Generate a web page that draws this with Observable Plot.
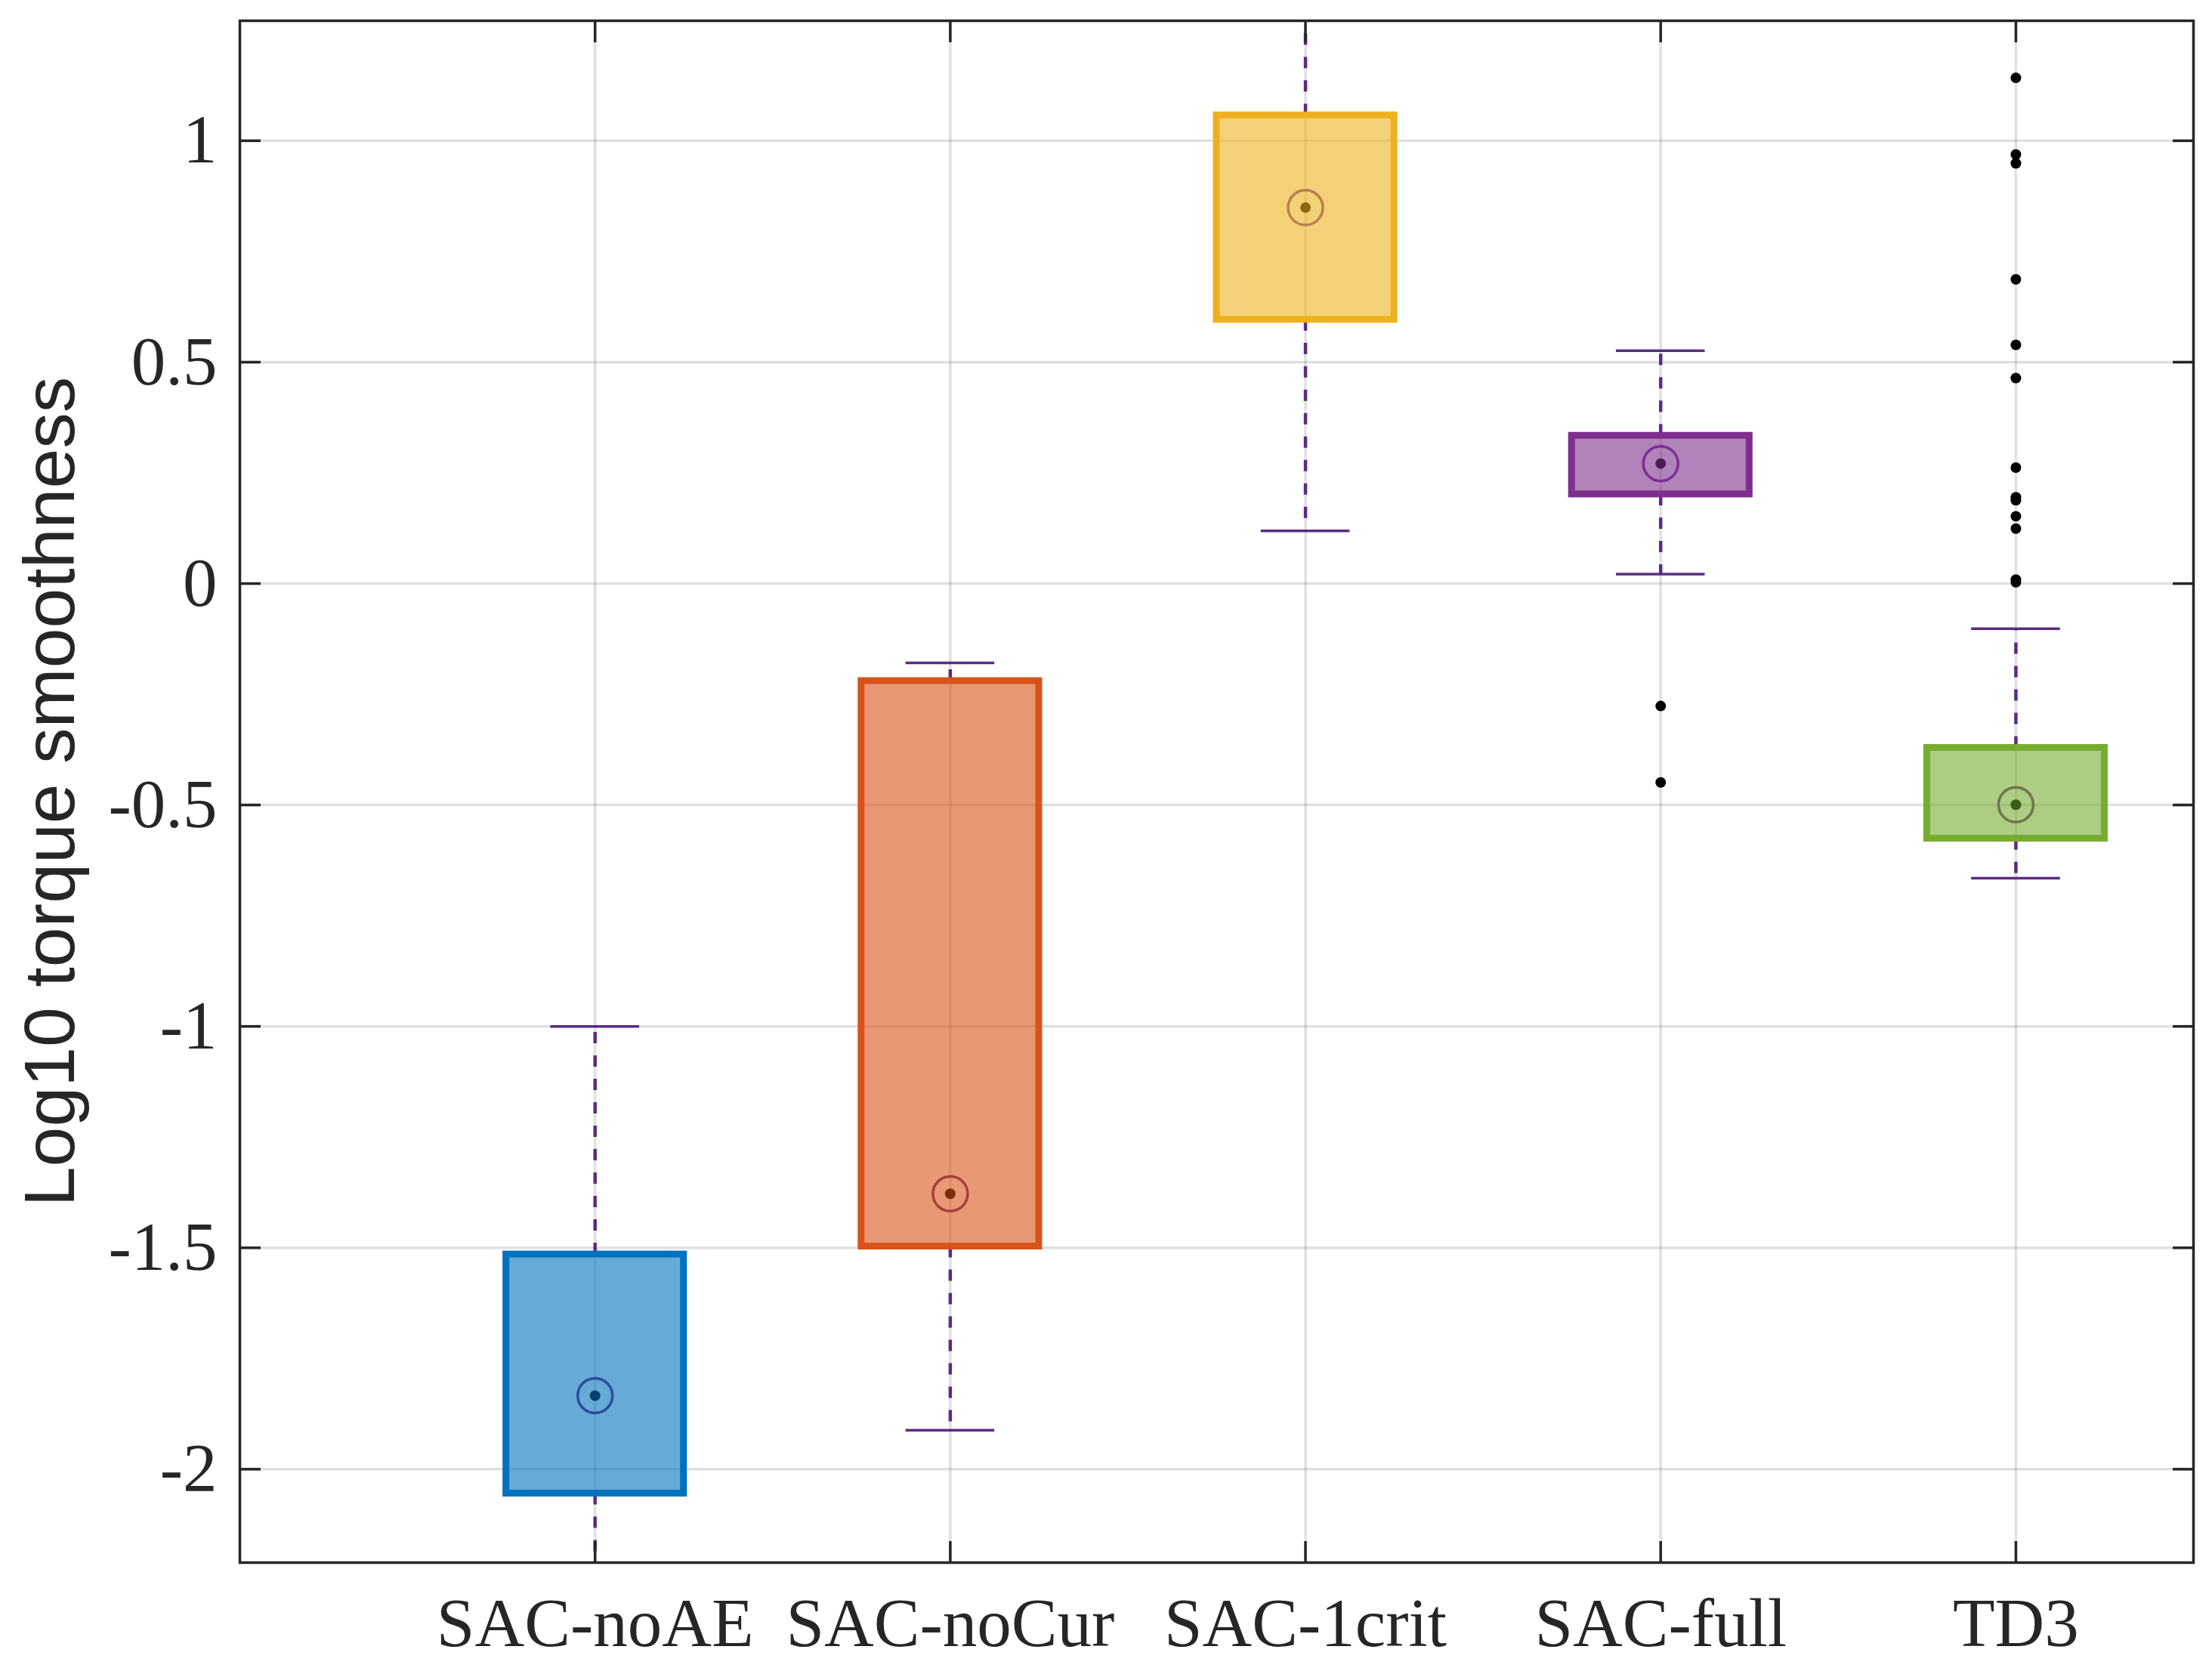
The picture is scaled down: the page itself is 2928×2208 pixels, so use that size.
<!DOCTYPE html>
<html>
<head>
<meta charset="utf-8">
<script src="https://cdn.jsdelivr.net/npm/d3@7"></script>
<script src="https://cdn.jsdelivr.net/npm/@observablehq/plot@0.6"></script>
<style>
  html, body { margin: 0; padding: 0; background: #ffffff; }
  #chart svg { display: block; }
</style>
</head>
<body>
<div id="chart"></div>
<script>
// ---- data ----
const categories = ["SAC-noAE", "SAC-noCur", "SAC-1crit", "SAC-full", "TD3"];
const positions = [1, 2, 3, 4, 5];
const q1 = [-2.055, -1.497, 0.596, 0.2015, -0.576];
const q3 = [-1.515, -0.220, 1.0575, 0.334, -0.371];
const medians = [-1.834, -1.378, 0.849, 0.271, -0.4995];
const whiskerLow = [-2.40, -1.912, 0.119, 0.0215, -0.6655];
const whiskerHigh = [-1.0, -0.179, 1.40, 0.526, -0.102];
const outliersSACfull = [-0.2765, -0.449];
const outliersTD3 = [1.142, 0.969, 0.949, 0.687, 0.539, 0.464, 0.262, 0.195, 0.188, 0.152, 0.124, 0.009, 0.003];
const yTicks = [-2, -1.5, -1, -0.5, 0, 0.5, 1];
const yDomain = [-2.211, 1.271];
const xDomain = [0, 5.5];
const yLabel = "Log10 torque smoothness";

// ---- styles ----
const boxColors = ["#0072BD", "#D95319", "#EDB120", "#7E2F8E", "#77AC30"];
const ringColors = ["#2D4C9E", "#A6403C", "#B8804A", "#7B2F93", "#6E7452"];
const dotColors = ["#00406B", "#7A2E0C", "#8A6812", "#4E1D58", "#3E5C17"];
const whiskerColor = "#5B2C82";
const axisColor = "#262626";

const boxes = categories.map((c, i) => ({
  cat: c, pos: positions[i], q1: q1[i], q3: q3[i], med: medians[i],
  lo: whiskerLow[i], hi: whiskerHigh[i],
  color: boxColors[i], ring: ringColors[i], dot: dotColors[i]
}));
const outliers = [
  ...outliersSACfull.map(v => ({pos: positions[3], v})),
  ...outliersTD3.map(v => ({pos: positions[4], v}))
];

const halfBox = 0.25, halfCap = 0.125;
const serif = "Liberation Serif";

const chart = Plot.plot({
  width: 2928,
  height: 2208,
  marginLeft: 317,
  marginRight: 25,
  marginTop: 27,
  marginBottom: 140,
  style: {fontFamily: serif, fontSize: "91px", color: axisColor, background: "#ffffff"},
  x: {domain: xDomain, label: null},
  y: {domain: yDomain, label: null},
  marks: [
    Plot.gridX(positions, {stroke: "#000", strokeOpacity: 0.12, strokeWidth: 3.5}),
    Plot.gridY(yTicks, {stroke: "#000", strokeOpacity: 0.12, strokeWidth: 3.5}),
    // whiskers (dashed)
    Plot.ruleX(boxes, {x: "pos", y1: "q3", y2: "hi", stroke: whiskerColor, strokeWidth: 4.5, strokeDasharray: "15,16", clip: true}),
    Plot.ruleX(boxes, {x: "pos", y1: "q1", y2: "lo", stroke: whiskerColor, strokeWidth: 4.5, strokeDasharray: "15,16", clip: true}),
    // caps
    Plot.ruleY(boxes, {y: "hi", x1: d => d.pos - halfCap, x2: d => d.pos + halfCap, stroke: whiskerColor, strokeWidth: 3.5, clip: true}),
    Plot.ruleY(boxes, {y: "lo", x1: d => d.pos - halfCap, x2: d => d.pos + halfCap, stroke: whiskerColor, strokeWidth: 3.5, clip: true}),
    // boxes
    Plot.rect(boxes, {x1: d => d.pos - halfBox, x2: d => d.pos + halfBox, y1: "q1", y2: "q3",
      fill: d => d.color, fillOpacity: 0.6, stroke: d => d.color, strokeWidth: 9}),
    // outliers
    Plot.dot(outliers, {x: "pos", y: "v", r: 7, fill: "#000", stroke: "none"}),
    // median markers
    Plot.dot(boxes, {x: "pos", y: "med", r: 23, fill: "none", stroke: d => d.ring, strokeWidth: 3.5}),
    Plot.dot(boxes, {x: "pos", y: "med", r: 7, fill: d => d.dot, stroke: "none"}),
    // frame + axes with inward ticks
    Plot.frame({stroke: axisColor, strokeWidth: 3.5}),
    Plot.axisY(yTicks, {anchor: "left", tickSize: -28, tickPadding: 58, tickFormat: d => String(d),
      color: axisColor, strokeWidth: 3.5, fontSize: 91, fontFamily: serif, label: null}),
    Plot.axisY(yTicks, {anchor: "right", tickSize: -28, tickFormat: () => "",
      color: axisColor, strokeWidth: 3.5, label: null}),
    Plot.axisX(positions, {anchor: "bottom", tickSize: -28, tickPadding: 74,
      tickFormat: d => categories[positions.indexOf(d)],
      color: axisColor, strokeWidth: 3.5, fontSize: 91, fontFamily: serif, label: null}),
    Plot.axisX(positions, {anchor: "top", tickSize: -28, tickFormat: () => "",
      color: axisColor, strokeWidth: 3.5, label: null}),
    // y title
    Plot.text([yLabel], {text: d => d, frameAnchor: "left", dx: -250, rotate: -90,
      fontFamily: "Liberation Sans", fontSize: 95, fill: axisColor, textAnchor: "middle", lineAnchor: "middle"})
  ]
});
document.getElementById("chart").appendChild(chart);
</script>
</body>
</html>
